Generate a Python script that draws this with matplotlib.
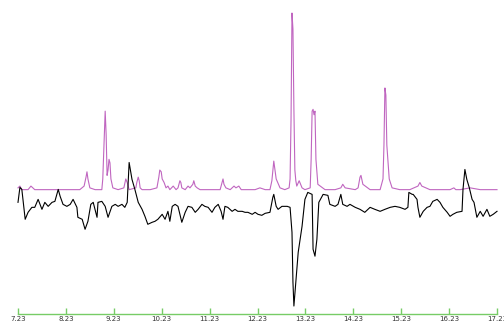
import matplotlib.pyplot as plt

# time in days after 7.23, upper trace (normalised intensity), lower trace (relative change)
tick_labels = ["7.23", "8.23", "9.23", "10.23", "11.23", "12.23",
               "13.23", "14.23", "15.23", "16.23", "17.23"]

t_upper = [0.00, 0.04, 0.08, 0.15, 0.21, 0.27, 0.35, 0.46, 0.67, 0.88, 1.09, 1.29,
           1.38, 1.42, 1.44, 1.46, 1.50, 1.61, 1.75, 1.77, 1.80, 1.82, 1.84, 1.86,
           1.88, 1.90, 1.92, 1.94, 1.98, 2.09, 2.21, 2.25, 2.28, 2.32, 2.46, 2.48,
           2.51, 2.53, 2.55, 2.59, 2.76, 2.90, 2.94, 2.96, 2.99, 3.01, 3.05, 3.09,
           3.13, 3.17, 3.24, 3.30, 3.34, 3.38, 3.40, 3.42, 3.49, 3.55, 3.59, 3.65,
           3.67, 3.70, 3.74, 3.80, 4.01, 4.22, 4.26, 4.28, 4.30, 4.34, 4.43, 4.51,
           4.55, 4.61, 4.66, 4.74, 4.95, 5.05, 5.16, 5.26, 5.30, 5.34, 5.39, 5.47,
           5.57, 5.66, 5.68, 5.70, 5.72, 5.74, 5.76, 5.78, 5.80, 5.82, 5.87, 5.93,
           5.99, 6.10, 6.12, 6.14, 6.16, 6.18, 6.20, 6.22, 6.26, 6.41, 6.62, 6.74,
           6.78, 6.83, 7.04, 7.10, 7.14, 7.16, 7.20, 7.35, 7.56, 7.62, 7.64, 7.66,
           7.68, 7.70, 7.75, 7.81, 7.97, 8.18, 8.35, 8.39, 8.43, 8.60, 8.81, 9.02,
           9.10, 9.14, 9.23, 9.44, 9.65, 9.85, 10.00]
upper = [0.02, 0.03, 0.01, 0.01, 0.01, 0.03, 0.01, 0.01, 0.01, 0.01, 0.01, 0.01,
         0.03, 0.08, 0.11, 0.07, 0.02, 0.01, 0.01, 0.07, 0.29, 0.45, 0.32, 0.09,
         0.12, 0.18, 0.16, 0.07, 0.02, 0.01, 0.02, 0.07, 0.05, 0.01, 0.02, 0.05,
         0.08, 0.06, 0.02, 0.01, 0.01, 0.02, 0.08, 0.12, 0.11, 0.07, 0.05, 0.02,
         0.03, 0.01, 0.03, 0.01, 0.02, 0.06, 0.05, 0.02, 0.01, 0.03, 0.02, 0.04,
         0.06, 0.03, 0.02, 0.01, 0.01, 0.01, 0.05, 0.07, 0.04, 0.02, 0.01, 0.03,
         0.02, 0.03, 0.01, 0.01, 0.01, 0.02, 0.01, 0.01, 0.06, 0.17, 0.07, 0.02,
         0.01, 0.02, 0.07, 0.40, 1.00, 0.91, 0.46, 0.12, 0.06, 0.03, 0.06, 0.02,
         0.01, 0.02, 0.18, 0.45, 0.46, 0.43, 0.45, 0.18, 0.04, 0.01, 0.01, 0.02,
         0.04, 0.02, 0.01, 0.02, 0.08, 0.09, 0.04, 0.01, 0.01, 0.07, 0.26, 0.58,
         0.54, 0.26, 0.07, 0.02, 0.01, 0.01, 0.03, 0.05, 0.03, 0.01, 0.01, 0.01,
         0.02, 0.01, 0.01, 0.02, 0.01, 0.01, 0.01]

t_lower = [0.00, 0.04, 0.08, 0.15, 0.21, 0.29, 0.35, 0.42, 0.50, 0.56, 0.63, 0.71,
           0.77, 0.84, 0.88, 0.94, 1.02, 1.09, 1.15, 1.23, 1.25, 1.34, 1.40, 1.46,
           1.52, 1.57, 1.65, 1.67, 1.75, 1.82, 1.88, 1.96, 2.03, 2.09, 2.17, 2.23,
           2.28, 2.32, 2.38, 2.44, 2.51, 2.59, 2.65, 2.71, 2.80, 2.86, 2.92, 3.01,
           3.07, 3.13, 3.17, 3.22, 3.28, 3.34, 3.42, 3.49, 3.55, 3.63, 3.70, 3.76,
           3.84, 3.90, 3.97, 4.05, 4.11, 4.18, 4.24, 4.28, 4.32, 4.38, 4.47, 4.53,
           4.59, 4.68, 4.74, 4.80, 4.89, 4.95, 5.01, 5.09, 5.16, 5.26, 5.32, 5.34,
           5.39, 5.43, 5.51, 5.62, 5.68, 5.72, 5.74, 5.76, 5.80, 5.85, 5.93, 5.99,
           6.05, 6.14, 6.16, 6.20, 6.24, 6.28, 6.37, 6.47, 6.51, 6.62, 6.68, 6.74,
           6.78, 6.87, 6.93, 7.04, 7.14, 7.24, 7.35, 7.45, 7.56, 7.66, 7.77, 7.87,
           7.97, 8.08, 8.14, 8.16, 8.23, 8.25, 8.33, 8.35, 8.39, 8.46, 8.54, 8.60,
           8.66, 8.75, 8.81, 8.87, 8.96, 9.02, 9.08, 9.16, 9.27, 9.29, 9.33, 9.37,
           9.42, 9.48, 9.52, 9.58, 9.65, 9.71, 9.79, 9.85, 9.92, 10.00]
lower = [0.03, 0.18, 0.16, -0.14, -0.07, -0.02, -0.02, 0.06, -0.04, 0.03, -0.01, 0.03,
         0.04, 0.16, 0.09, 0.01, -0.01, 0.01, 0.06, -0.02, -0.12, -0.14, -0.24, -0.16,
         0.01, 0.03, -0.12, 0.03, 0.04, -0.01, -0.12, -0.01, 0.01, -0.01, 0.01, -0.02,
         0.03, 0.43, 0.26, 0.16, 0.03, -0.04, -0.11, -0.19, -0.17, -0.16, -0.14, -0.09,
         -0.14, -0.06, -0.16, -0.01, 0.01, -0.01, -0.17, -0.07, -0.01, -0.02, -0.07, -0.04,
         0.01, -0.01, -0.02, -0.07, -0.02, 0.01, -0.06, -0.14, -0.01, -0.02, -0.06, -0.04,
         -0.06, -0.06, -0.07, -0.07, -0.09, -0.07, -0.09, -0.10, -0.08, -0.07, 0.08, 0.11,
         -0.01, -0.04, -0.01, -0.01, -0.02, -0.27, -0.77, -1.01, -0.77, -0.47, -0.21, 0.06,
         0.13, 0.11, -0.44, -0.51, -0.34, 0.03, 0.11, 0.10, 0.01, -0.01, 0.01, 0.11,
         0.01, -0.01, 0.01, -0.02, -0.04, -0.07, -0.02, -0.04, -0.06, -0.04, -0.02, -0.01,
         -0.02, -0.04, -0.02, 0.13, 0.11, 0.11, 0.06, -0.02, -0.12, -0.06, -0.02, -0.01,
         0.04, 0.06, 0.03, -0.02, -0.07, -0.11, -0.09, -0.07, -0.06, 0.16, 0.36, 0.26,
         0.18, 0.06, 0.03, -0.12, -0.06, -0.11, -0.04, -0.11, -0.09, -0.06]

fig = plt.figure(figsize=(5.04, 3.25), dpi=100)
ax = fig.add_axes([18 / 504, 11 / 325, 479 / 504, 314 / 325])
ax.plot(t_upper, upper, color="#c066c0", lw=0.8, clip_on=False)
ax.set_xlim(0, 10)
ax.set_ylim(-0.687, 1.073)

# second scale for the lower trace
ax2 = ax.twinx()
ax2.plot(t_lower, lower, color="black", lw=0.8, clip_on=False)
ax2.set_ylim(-1.09, 2.06)

for a in (ax, ax2):
    for s in ("top", "left", "right"):
        a.spines[s].set_visible(False)
    a.set_yticks([])
ax2.spines["bottom"].set_visible(False)

ax.spines["bottom"].set_color("#77cc66")
ax.spines["bottom"].set_linewidth(1.0)
ax.set_xticks(range(len(tick_labels)))
ax.set_xticklabels(tick_labels)
ax.tick_params(axis="x", direction="in", length=4, width=1, color="#77cc66",
               labelsize=5, labelcolor="#333333", pad=1.5)

fig.savefig("out.png", dpi=100)
